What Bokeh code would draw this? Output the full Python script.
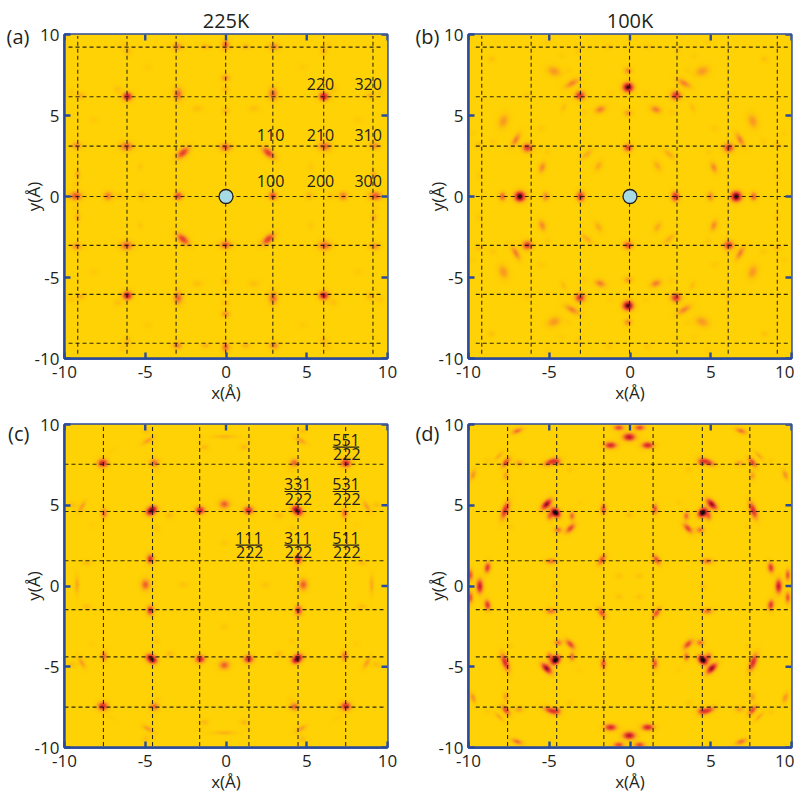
import numpy as np
from bokeh.embed import file_html
from bokeh.resources import INLINE
from bokeh.plotting import figure
from bokeh.layouts import column, row
from bokeh.models import FixedTicker, LinearAxis, LinearColorMapper
from bokeh.core.properties import value

TICKS = [-10, -5, 0, 5, 10]
FONT = "Open Sans"
BLUE = "#2a4a9c"
INK = "#231f20"
CIRCLE = "#a6dbe5"

# peaks: x, y, strength, long sigma, short sigma, angle of long side (deg); first quadrant, mirrored
PEAKS_A = [
 (2.93,0,.60,.15,.13,0),(9.3,0,.55,.22,.14,0),(7.3,0,.42,.16,.14,0),(5.2,0,.2,.13,.12,0),(6.55,0,.15,.13,.1,0),
 (0,3.0,.55,.2,.14,0),(0,7.3,.35,.15,.12,0),(0,6.6,.18,.13,.1,0),(0,5.25,.2,.13,.11,0),(0,9.35,.5,.17,.14,90),
 (2.65,2.65,.65,.27,.14,-40),(6.1,6.15,.85,.17,.15,0),(2.95,6.3,.5,.22,.16,90),(6.15,3.05,.52,.22,.16,0),
 (3.0,9.25,.4,.17,.13,0),(1.25,9.25,.22,.15,.1,0),(6.1,9.0,.2,.15,.12,90),(9.25,3.1,.38,.17,.13,0),(9.2,1.3,.25,.15,.1,90),
 (9.0,6.2,.22,.15,.12,0),(1.75,5.4,.14,.18,.12,0),(6.7,6.6,.14,.14,.12,0),(5.3,1.8,.1,.13,.1,90),(8.2,4.7,.07,.16,.12,0),(4.8,8.0,.06,.14,.12,0),
 (9.6,6.4,.1,.13,.11,0),(6.35,9.4,.1,.13,.11,0),(9.3,0.7,.1,.12,.1,0),
]
PEAKS_B = [
 (6.72,0,1.05,.19,.17,0),(0,6.75,1.05,.19,.17,0),(7.8,0,.5,.14,.12,90),(2.94,0,.72,.16,.14,90),(5.12,0,.38,.15,.12,90),
 (0,3.0,.62,.16,.14,0),(0,5.15,.32,.15,.12,0),(0,7.78,.38,.14,.12,0),(2.98,6.25,.72,.18,.16,0),(3.48,7.0,.4,.28,.12,-30),
 (4.6,7.75,.33,.25,.17,20),(1.73,5.37,.42,.2,.13,-20),(4.0,5.5,.16,.16,.09,-60),(6.25,3.0,.68,.18,.16,0),(6.97,3.48,.42,.27,.11,-60),
 (7.74,4.65,.33,.25,.17,-70),(5.33,1.77,.38,.2,.12,-70),(1.83,1.87,.24,.2,.12,-60),(2.55,2.6,.24,.25,.1,-40),(8.48,8.5,.14,.12,.1,0),
 (9.28,3.17,.16,.13,.1,0),(1.2,9.28,.1,.13,.1,0),(9.28,1.25,.1,.13,.1,90),(6.25,6.23,.1,.14,.1,0),(5.4,4.2,.08,.14,.1,0),
 (4.1,8.7,.06,.13,.1,0),(3.1,9.0,.08,.12,.1,90),(8.4,3.4,.1,.12,.1,0),(2.7,5.2,.08,.12,.1,0),(5.0,2.7,.08,.12,.1,0),(9.7,3.9,.06,.12,.1,0),
 (3.7,7.8,.07,.12,.1,0),(5.0,9.6,.06,.13,.1,0),(1.1,6.4,.06,.12,.1,0),
]
PEAKS_C = [
 (1.5,4.62,.78,.17,.14,0),(0,5.0,.52,.19,.16,0),(4.42,4.72,.7,.16,.13,0),(4.62,4.5,.72,.17,.14,0),(7.47,4.43,.5,.17,.11,90),
 (7.55,7.55,.78,.18,.15,0),(4.35,7.57,.5,.16,.14,0),(4.6,1.6,.7,.17,.13,90),(4.9,0,.52,.2,.16,90),(9.15,0,.25,.33,.08,90),
 (8.55,1.35,.16,.16,.1,0),(2.55,0,.13,.14,.1,0),(0,9.2,.2,.42,.07,0),(1.23,8.55,.18,.15,.1,0),(4.75,8.95,.3,.23,.09,-30),
 (4.85,9.55,.15,.14,.1,0),(8.85,4.85,.3,.23,.09,-60),(9.45,4.95,.16,.14,.1,0),(3.4,4.3,.17,.15,.11,0),(0,2.6,.1,.13,.1,0),
 (4.1,7.1,.06,.12,.1,0),(4.2,3.5,.08,.12,.1,0),(7.0,8.3,.05,.2,.08,-30),(8.2,3.7,.05,.12,.1,0),(1.5,9.0,.05,.12,.1,0),
]
PEAKS_D = [
 (4.57,4.58,1.1,.2,.15,45),(5.13,5.1,.85,.25,.13,-45),(3.55,4.37,.45,.16,.11,90),(3.65,3.6,.55,.23,.12,-45),(4.41,3.5,.42,.15,.12,0),
 (4.95,4.35,.42,.16,.12,90),(7.7,4.72,.68,.33,.13,-70),(1.6,4.8,.52,.2,.11,90),(0,4.43,.15,.13,.1,0),(1.7,1.65,.52,.22,.12,-55),
 (4.85,1.55,.42,.2,.11,0),(.63,.65,.12,.13,.1,0),(8.8,1.16,.62,.2,.12,-80),(9.28,0,.75,.27,.13,90),(9.85,.7,.5,.22,.1,90),
 (0,9.27,.78,.24,.15,0),(1.15,8.76,.7,.23,.13,0),(.65,9.85,.55,.2,.11,0),(4.85,7.73,.62,.28,.12,-20),(4.45,7.7,.35,.15,.12,0),
 (7.66,7.7,.55,.22,.11,-50),(6.85,7.65,.25,.17,.11,0),(6.95,9.65,.42,.22,.1,-20),(8.08,8.1,.22,.23,.08,-45),(9.7,6.92,.32,.2,.1,-70),
 (7.66,6.87,.26,.17,.11,90),(3.7,7.24,.1,.12,.1,0),(4.58,0,.12,.13,.1,0),(3.1,5.2,.05,.12,.1,0),(7.4,3.7,.08,.12,.1,0),(8.8,7.8,.08,.12,.1,0),
]
CENTRES = {"a": (-0.02, 0.03), "b": (-0.12, 0.0), "c": (-0.1, 0.08), "d": (-0.05, -0.02)}
WIDEN = {"a": 1.25, "b": 1.25, "c": 1.25, "d": 1.18}
BOOST = {"a": 1.05, "b": 1.05, "c": 1.05, "d": 1.15}

GRID_A_X = [-9.18,-6.13,-3.09,-0.02,2.9,6.05,9.1]
GRID_A_Y = [9.22,6.16,3.11,0,-3.02,-6.04,-9.06]
GRID_B_X = [-9.18,-6.12,-3.07,-0.03,2.91,6.08,9.12]
GRID_C_X = [-7.59,-4.55,-1.63,1.42,4.46,7.41]
GRID_C_Y = [7.54,4.61,1.56,-1.46,-4.39,-7.5]
GRID_D_X = [-7.58,-4.54,-1.62,1.43,4.48,7.42]

LABELS_AB = [("220",5.85,6.92),("320",8.8,6.92),("110",2.76,3.77),("210",5.85,3.77),("310",8.8,3.77),
             ("100",2.76,0.94),("200",5.85,0.94),("300",8.8,0.94)]
LABELS_C = [("111",1.42,2.98),("311",4.44,2.98),("511",7.43,2.98),("331",4.44,6.3),("531",7.43,6.3),("551",7.43,9.05)]

STOPS = [(0,(255,210,5)),(.1,(254,198,10)),(.3,(250,155,35)),(.5,(240,90,40)),(.7,(222,45,45)),(.85,(150,20,35)),(1,(20,5,10))]

def palette():
    pos = [s[0] for s in STOPS]
    out = []
    for t in np.linspace(0, 1, 256):
        c = [int(np.interp(t, pos, [s[1][i] for s in STOPS])) for i in range(3)]
        out.append("#%02x%02x%02x" % tuple(c))
    return out

def density(peaks, centre, widen, boost, n=323):
    xs = np.linspace(-10, 10, n)
    X, Y = np.meshgrid(xs, xs)
    Z = np.zeros_like(X)
    for (x, y, a, s1, s2, ang) in peaks:
        for sx in ([1] if x == 0 else [1, -1]):
            for sy in ([1] if y == 0 else [1, -1]):
                th = np.radians(ang * sx * sy)
                dx = X - (centre[0] + sx * x)
                dy = Y - (centre[1] + sy * y)
                u = dx * np.cos(th) + dy * np.sin(th)
                v = -dx * np.sin(th) + dy * np.cos(th)
                Z += boost * a * np.exp(-0.5 * ((u / (s1 * widen)) ** 2 + (v / (s2 * widen)) ** 2))
    return Z

MAPPER = LinearColorMapper(palette=palette(), low=0, high=1.12)

def panel(tag, title, peaks, gx, gy, h, top, bottom, left, right, yspan, xspan, tag_y, tag_standoff):
    p = figure(frame_width=323, frame_height=h, x_range=(-10, 10), y_range=(-10, 10),
               output_backend="svg", toolbar_location=None, min_border_left=left, min_border_right=right,
               min_border_top=top, min_border_bottom=bottom, x_axis_label="x(Å)", y_axis_label="y(Å)")
    p.background_fill_color = "#ffd205"
    p.grid.visible = False
    p.image(image=[density(peaks, CENTRES[tag], WIDEN[tag], BOOST[tag])], x=-10, y=-10, dw=20, dh=20, color_mapper=MAPPER)
    ylo, yhi = yspan
    xlo, xhi = xspan
    p.segment(x0=gx, x1=gx, y0=[ylo]*len(gx), y1=[yhi]*len(gx), line_color="#111111", line_alpha=0.88, line_width=1.1, line_dash="4 3")
    p.segment(x0=[xlo]*len(gy), x1=[xhi]*len(gy), y0=gy, y1=gy, line_color="#111111", line_alpha=0.88, line_width=1.1, line_dash="4 3")
    t = 6 * 20 / 323
    p.segment(x0=TICKS, x1=TICKS, y0=[10]*5, y1=[10-t]*5, line_color=BLUE, line_width=2.4)
    p.segment(x0=[10]*5, x1=[10-t]*5, y0=TICKS, y1=TICKS, line_color=BLUE, line_width=2.4)
    p.outline_line_color = BLUE
    p.outline_line_width = 2.4
    p.outline_line_alpha = 1
    for ax in p.xaxis + p.yaxis:
        ax.ticker = FixedTicker(ticks=TICKS)
        ax.major_label_overrides = {-10: "-10", -5: "-5", 0: "0", 5: "5", 10: "10"}
        ax.minor_tick_line_color = None
        ax.major_tick_in = 6
        ax.major_tick_out = 0
        ax.major_tick_line_color = BLUE
        ax.major_tick_line_width = 2.4
        ax.axis_line_color = BLUE
        ax.axis_line_width = 2.4
        ax.major_label_text_font = FONT
        ax.major_label_text_color = INK
        ax.major_label_text_font_size = "17px"
        ax.axis_label_text_font = FONT
        ax.axis_label_text_font_style = "normal"
        ax.axis_label_text_color = INK
        ax.axis_label_text_font_size = "17px"
    p.xaxis.major_label_standoff = 7
    p.yaxis.major_label_standoff = 5
    p.xaxis.axis_label_standoff = 0
    p.yaxis.axis_label_standoff = -13
    if title:
        p.title.text = title
        p.title.text_font = FONT
        p.title.text_font_size = "20px"
        p.title.text_font_style = "normal"
        p.title.text_color = INK
        p.title.align = "center"
        p.title.offset = 0
        p.title.standoff = 1
    tag_axis = LinearAxis(ticker=FixedTicker(ticks=[tag_y]), major_label_overrides={tag_y: "(%s)" % tag},
                          axis_line_color=None, major_tick_line_color=None, minor_tick_line_color=None,
                          major_tick_in=0, major_tick_out=0, major_label_standoff=tag_standoff,
                          major_label_text_font=FONT, major_label_text_font_size="20px", major_label_text_color=INK)
    p.add_layout(tag_axis, "left")
    return p

def add_text(p, items, size):
    p.text(x=[i[1] for i in items], y=[i[2] for i in items], text=[i[0] for i in items],
           text_font=value(FONT), text_font_size=value(size), text_color=INK, text_align="center", text_baseline="middle")

a = panel("a", "225K", PEAKS_A, GRID_A_X, GRID_A_Y, 324, 34, 42, 64, 13, (-9.7, 9.9), (-9.75, 9.75), 9.9, -11)
b = panel("b", "100K", PEAKS_B, GRID_B_X, GRID_A_Y, 324, 34, 42, 68, 3, (-9.7, 9.9), (-9.55, 9.85), 9.9, -17)
c = panel("c", None, PEAKS_C, GRID_C_X, GRID_C_Y, 323, 18, 46, 64, 13, (-9.9, 9.9), (-10, 9.75), 9.44, -11)
d = panel("d", None, PEAKS_D, GRID_D_X, GRID_C_Y, 323, 18, 46, 68, 3, (-9.9, 9.9), (-9.55, 9.85), 9.44, -17)

add_text(a, LABELS_AB, "16px")
add_text(c, [(l[0], l[1], l[2]) for l in LABELS_C], "16px")
add_text(c, [("222", l[1] + 0.05, l[2] - 0.9) for l in LABELS_C], "16px")
c.segment(x0=[l[1] - 0.82 for l in LABELS_C], x1=[l[1] + 0.82 for l in LABELS_C],
          y0=[l[2] - 0.45 for l in LABELS_C], y1=[l[2] - 0.45 for l in LABELS_C], line_color=INK, line_width=1.2)

for p in (a, b):
    p.scatter(x=[0], y=[0], size=14, fill_color=CIRCLE, line_color=INK, line_width=1.3)

layout = column(row(a, b, spacing=0), row(c, d, spacing=0), spacing=0)
open("out.html", "w").write(file_html(layout, INLINE))
